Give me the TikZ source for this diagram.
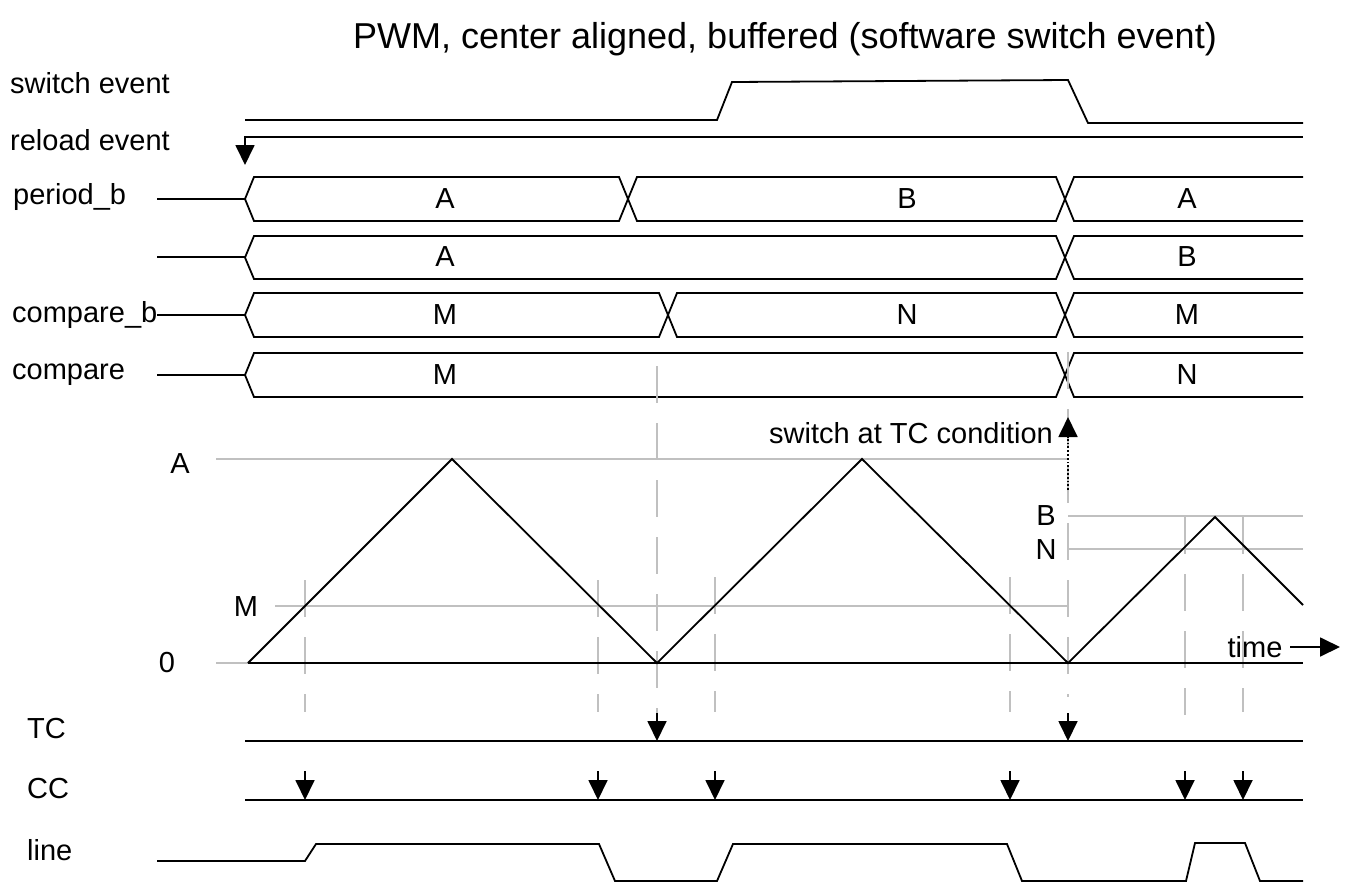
\documentclass[tikz,border=0pt]{standalone}
\usepackage{fontspec}
\setmainfont{Liberation Sans}
\usetikzlibrary{arrows.meta}
\definecolor{levelgray}{RGB}{192,192,192}

\begin{document}
\begin{tikzpicture}[x=1pt, y=-1pt,
  sig/.style={black, line width=1.8pt, line join=miter},
  lvl/.style={levelgray, line width=1.8pt},
  tick/.style={levelgray, line width=1.8pt, dash pattern=on 37pt off 20pt},
  evt/.style={sig, -{Triangle[length=20pt,width=19pt]}},
  lbl/.style={font=\fontsize{29}{34}\selectfont, inner sep=0pt}]
\useasboundingbox (0,0) rectangle (1347,884);

\node[lbl, font=\fontsize{36}{42}\selectfont] (title) at (785,39) {PWM, center aligned, buffered (software switch event)};

% signal names
\node[lbl, anchor=west] (swname) at (10,83) {switch event};
\node[lbl, anchor=west] (rlname) at (10,140) {reload event};
\node[lbl, anchor=west] (pbname) at (13,197) {period\_b};
\node[lbl, anchor=west] (cbname) at (12,315) {compare\_b};
\node[lbl, anchor=west] (cmname) at (12,375) {compare};
\node[lbl, anchor=west] (tcname) at (27,729) {TC};
\node[lbl, anchor=west] (ccname) at (27,789) {CC};
\node[lbl, anchor=west] (lnname) at (27,850) {line};

% switch event and reload event
\draw[sig] (245,120) -- (717,120) -- (732,82) -- (1068,80) -- (1088,123) -- (1303,123);
\draw[evt] (1303,137) -- (245,137) -- (245,165);

% buses
\draw[sig] (157,199) -- (245,199);
\draw[sig] (157,257) -- (245,257);
\draw[sig] (cbname.east) -- (245,315);
\draw[sig] (157,375) -- (245,375);
\foreach \yt/\yb/\xs in {177/221/{245/628,628/1065}, 236/279/{245/1065},
                          293/337/{245/668,668/1065}, 353/397/{245/1065}}{
  \foreach \xa/\xb in \xs
    \draw[sig] (\xa,{(\yt+\yb)/2}) -- (\xa+9,\yt) -- (\xb-9,\yt) -- (\xb,{(\yt+\yb)/2})
      -- (\xb-9,\yb) -- (\xa+9,\yb) -- cycle;
  \draw[sig] (1303,\yt) -- (1074,\yt) -- (1065,{(\yt+\yb)/2}) -- (1074,\yb) -- (1303,\yb);
}
\node[lbl] (pb1) at (445,199) {A};
\node[lbl] (pb2) at (907,199) {B};
\node[lbl] (pb3) at (1187,199) {A};
\node[lbl] (pe1) at (445,257) {A};
\node[lbl] (pe2) at (1187,257) {B};
\node[lbl] (cb1) at (445,315) {M};
\node[lbl] (cb2) at (907,315) {N};
\node[lbl] (cb3) at (1187,315) {M};
\node[lbl] (cm1) at (445,375) {M};
\node[lbl] (cm2) at (1187,375) {N};

% levels of the counter
\draw[lvl] (216,459) -- (1068,459);
\draw[lvl] (275,606) -- (1068,606);
\draw[lvl] (1068,516) -- (1303,516);
\draw[lvl] (1068,549) -- (1303,549);
\draw[lvl] (216,663) -- (248,663);
\node[lbl] (lvA) at (180,464) {A};
\node[lbl] (lvM) at (246,607) {M};
\node[lbl] (lv0) at (167,663) {0};
\node[lbl] (lvB) at (1046,516) {B};
\node[lbl] (lvN) at (1046,550) {N};

% compare and top count instants
\foreach \x/\ya/\yb in {305/580/712, 598/580/712, 657/366/715, 715/577/712,
                        1010/577/712, 1068/352/697, 1185/517/715, 1243/517/712}
  \draw[tick] (\x,\ya) -- (\x,\yb);

% counter
\draw[sig] (248,663) -- (1303,663);
\draw[sig] (248,663) -- (452,459) -- (657,663) -- (862,459) -- (1068,663)
  -- (1215,517) -- (1303,605);

\node[lbl, anchor=east] (swtc) at (1053,433) {switch at TC condition};
\draw[sig, dotted, -{Triangle[length=20pt,width=19pt]}] (1068,490) -- (1068,417);
\node[lbl] (time) at (1255,647) {time};
\draw[evt] (1290,647) -- (1340,647);

% TC and CC
\draw[sig] (245,741) -- (1303,741);
\draw[sig] (245,800) -- (1303,800);
\foreach \x in {657,1068}
  \draw[evt] (\x,713) -- (\x,741);
\foreach \x in {305,598,715,1010,1185,1243}
  \draw[evt] (\x,771) -- (\x,800);

% line
\draw[sig] (157,861) -- (305,861) -- (316,844) -- (599,844) -- (615,881) -- (717,881)
  -- (733,844) -- (1007,844) -- (1022,881) -- (1186,881) -- (1195,843) -- (1245,843)
  -- (1260,881) -- (1303,881);
\end{tikzpicture}
\end{document}
